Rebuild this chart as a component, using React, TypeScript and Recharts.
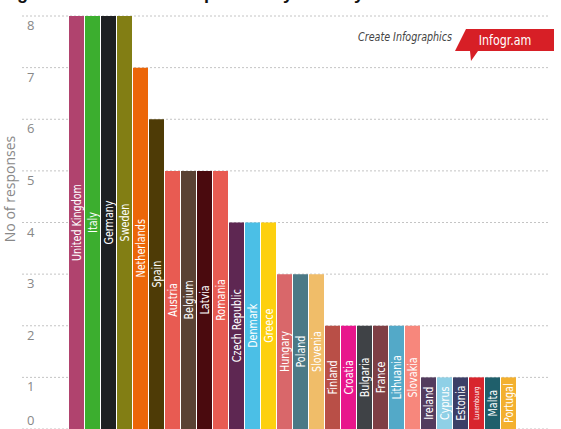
import { BarChart, Bar, Cell, CartesianGrid, LabelList, XAxis, YAxis } from 'recharts';

const countries = [
  'United Kingdom', 'Italy', 'Germany', 'Sweden', 'Netherlands', 'Spain', 'Austria',
  'Belgium', 'Latvia', 'Romania', 'Czech Republic', 'Denmark', 'Greece', 'Hungary',
  'Poland', 'Slovenia', 'Finland', 'Croatia', 'Bulgaria', 'France', 'Lithuania',
  'Slovakia', 'Ireland', 'Cyprus', 'Estonia', 'Luxembourg', 'Malta', 'Portugal',
];

const responses = [8, 8, 8, 8, 7, 6, 5, 5, 5, 5, 4, 4, 4, 3, 3, 3, 2, 2, 2, 2, 2, 2, 1, 1, 1, 1, 1, 1];

const yTicks = [0, 1, 2, 3, 4, 5, 6, 7, 8];

const barColors = [
  '#b0436e', '#3cae2f', '#1e2022', '#827e14', '#ec6608', '#4e3b06', '#e85b52',
  '#5a4234', '#4a0a0e', '#e85b52', '#5e2752', '#4bbfe6', '#fdd00f', '#d9676a',
  '#4b7986', '#f0bd69', '#b94f47', '#e8168c', '#3f4246', '#7f3f45', '#53a9c8',
  '#f7877c', '#533c5e', '#8fd0e6', '#3c3f67', '#d8252d', '#1f5f6b', '#f3b02f',
];

const data = countries.map((name, i) => ({ name, responses: responses[i] }));

const narrow = "'DejaVu Sans Condensed', 'Liberation Sans Narrow', sans-serif";

const YTick = (props: any) => {
  const { y, payload } = props;
  const dy = payload.value === 0 ? -4 : 14;
  return (
    <text x={27} y={y + dy} fill='#888' fontSize={13} fontFamily="'Open Sans', sans-serif">
      {payload.value}
    </text>
  );
};

// names are drawn upright in the bar, squeezed along the text to look condensed
const BarLabel = (props: any) => {
  const { x, y, width, height, value } = props;
  const cx = x + width / 2;
  const cy = y + height / 2;
  const base = 13;
  let fontSize = base;
  const est = String(value).length * 0.41 * base;
  if (est > height - 8) fontSize = (base * (height - 22)) / est;
  return (
    <text
      x={0}
      y={0}
      transform={`translate(${cx}, ${cy}) rotate(-90) scale(0.82, 1)`}
      textAnchor='middle'
      dominantBaseline='central'
      fill='#fff'
      fontSize={fontSize}
      fontFamily={narrow}
    >
      {value}
    </text>
  );
};

export default function App() {
  return (
    <div style={{ position: 'absolute', left: 0, top: 0, width: 561, height: 429 }}>
      <BarChart
        width={561}
        height={429}
        data={data}
        margin={{ top: 16, right: 13, bottom: 0, left: 0 }}
        barSize={15}
        barCategoryGap={0}
      >
        <CartesianGrid vertical={false} stroke='#c4c4c4' strokeDasharray='2 2' />
        <XAxis dataKey='name' hide padding={{ left: 46, right: 32 }} />
        <YAxis
          domain={[0, 8]}
          ticks={yTicks}
          interval={0}
          width={22}
          axisLine={false}
          tickLine={false}
          tick={<YTick />}
        />
        <Bar dataKey='responses' isAnimationActive={false}>
          {data.map((d, i) => (
            <Cell key={d.name} fill={barColors[i]} />
          ))}
          <LabelList dataKey='name' content={<BarLabel />} />
        </Bar>
      </BarChart>
      <svg
        width={561}
        height={429}
        style={{ position: 'absolute', left: 0, top: 0, pointerEvents: 'none' }}
      >
        <text x={1} y={-1} fontSize={18} fontWeight='bold' fill='#111' fontFamily="'Liberation Sans', sans-serif">
          Figure 4: Number of responses by country
        </text>
        <text
          x={9}
          y={189}
          transform='rotate(-90, 9, 189)'
          textAnchor='middle'
          dominantBaseline='central'
          fontSize={14}
          fill='#888'
          fontFamily="'Open Sans', sans-serif"
        >
          No of responses
        </text>
        <text
          x={0}
          y={0}
          transform='translate(452, 41) scale(0.85, 1)'
          textAnchor='end'
          fontSize={12.5}
          fontStyle='italic'
          fill='#444'
          fontFamily={narrow}
        >
          Create Infographics
        </text>
        <polygon points='455,51 466,29 554,29 554,51 478,51 471,61 470,51' fill='#d71f26' />
        <text
          x={0}
          y={0}
          transform='translate(505, 40) scale(0.85, 1)'
          textAnchor='middle'
          dominantBaseline='central'
          fontSize={14.5}
          fill='#fff'
          fontFamily={narrow}
        >
          Infogr.am
        </text>
      </svg>
    </div>
  );
}
